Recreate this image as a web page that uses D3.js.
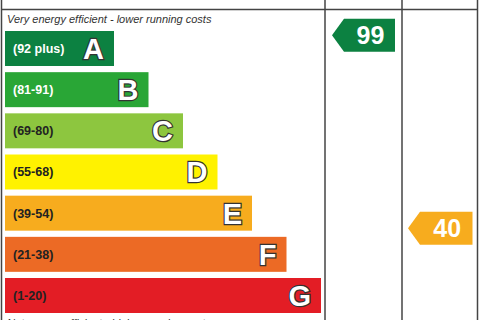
<!DOCTYPE html>
<html>
<head>
<meta charset="utf-8">
<script src="https://cdn.jsdelivr.net/npm/d3@7"></script>
<style>
  body { margin: 0; background: #fff; }
  svg { display: block; font-family: "Liberation Sans", Arial, sans-serif; }
</style>
</head>
<body>
<svg id="chart" width="480" height="320"></svg>
<script>
// Energy efficiency bands, top to bottom
const bands = ['A', 'B', 'C', 'D', 'E', 'F', 'G'];
const rangeLabels = ['(92 plus)', '(81-91)', '(69-80)', '(55-68)', '(39-54)', '(21-38)', '(1-20)'];
const bandMin = [92, 81, 69, 55, 39, 21, 1];
const bandMax = [100, 91, 80, 68, 54, 38, 20];
const bandColors = ['#0c8141', '#29a636', '#8dc63f', '#fff200', '#f7ac1e', '#ec6a25', '#e31d25'];
const rangeTextColors = ['#fff', '#fff', '#222', '#222', '#222', '#222', '#222'];

// Ratings shown in the two right-hand columns
const columns = ['Current', 'Potential'];
const ratings = [99, 40];

const svg = d3.select('#chart');
const W = 480, H = 320;

// column edges
const colX = d3.scaleOrdinal().domain(['chart', 'Current', 'Potential', 'end']).range([1.5, 325, 402, 477.5]);
const headerY = 9.5;

// band rows
const y = d3.scaleBand().domain(bands).range([31, 313]).paddingInner(0.15).paddingOuter(0);
// bar length grows from A to G
const barW = d3.scaleLinear().domain([0, bands.length - 1]).range([109, 316]);
const barX = 5;

const g = svg.append('g');

bands.forEach((b, i) => {
  const row = g.append('g').attr('transform', `translate(${barX},${y(b)})`);
  const w = barW(i);
  row.append('rect')
    .attr('width', w)
    .attr('height', y.bandwidth())
    .attr('fill', bandColors[i]);
  row.append('text')
    .attr('x', 8)
    .attr('y', y.bandwidth() / 2 + 4.5)
    .attr('fill', rangeTextColors[i])
    .style('font-size', '12.5px')
    .style('font-weight', 'bold')
    .text(rangeLabels[i]);
  row.append('text')
    .attr('x', w - 10)
    .attr('y', y.bandwidth() / 2 + 10.5)
    .attr('text-anchor', 'end')
    .attr('fill', '#fff')
    .attr('stroke', '#333')
    .attr('stroke-width', 2.4)
    .attr('paint-order', 'stroke')
    .style('font-size', '29px')
    .style('font-weight', 'bold')
    .text(b);
});

// top / bottom captions
g.append('text')
  .attr('x', 7).attr('y', 23)
  .attr('fill', '#333')
  .style('font-size', '11px')
  .style('font-style', 'italic')
  .text('Very energy efficient - lower running costs');

g.append('text')
  .attr('x', 7).attr('y', 327)
  .attr('fill', '#333')
  .style('font-size', '11px')
  .style('font-style', 'italic')
  .text('Not energy efficient - higher running costs');

// column headers (cut off at the top edge)
columns.forEach((c, i) => {
  const x0 = colX(c), x1 = i === 0 ? colX('Potential') : colX('end');
  g.append('text')
    .attr('x', (x0 + x1) / 2)
    .attr('y', -0.5)
    .attr('text-anchor', 'middle')
    .attr('fill', '#222')
    .style('font-size', '13px')
    .style('font-weight', 'bold')
    .text(c);
});

// grid lines
const lineColor = '#444';
['chart', 'Current', 'Potential', 'end'].forEach(k => {
  g.append('line')
    .attr('x1', colX(k)).attr('x2', colX(k))
    .attr('y1', 0).attr('y2', H)
    .attr('stroke', lineColor).attr('stroke-width', 1.5);
});
g.append('line')
  .attr('x1', colX('chart')).attr('x2', colX('end'))
  .attr('y1', headerY).attr('y2', headerY)
  .attr('stroke', lineColor).attr('stroke-width', 1.5);

// rating position within its band
function bandIndex(score) {
  return bandMin.findIndex(m => score >= m);
}
function ratingY(score) {
  const i = bandIndex(score);
  const s = d3.scaleLinear().domain([bandMax[i], bandMin[i]]).range([y(bands[i]), y(bands[i]) + y.bandwidth()]);
  return s(score);
}

// rating arrows
ratings.forEach((r, i) => {
  const c = columns[i];
  const x0 = colX(c) + (i === 0 ? 7 : 6);
  const x1 = (i === 0 ? colX('Potential') : colX('end')) - (i === 0 ? 7 : 5);
  const cy = ratingY(r);
  const hh = 16.5;
  const tip = 12;
  const bi = bandIndex(r);
  const pts = [[x0, cy], [x0 + tip, cy - hh], [x1, cy - hh], [x1, cy + hh], [x0 + tip, cy + hh]];
  g.append('path')
    .attr('d', d3.line()(pts) + 'Z')
    .attr('fill', bandColors[bi]);
  g.append('text')
    .attr('x', (x0 + tip + x1) / 2 + 1)
    .attr('y', cy + 9)
    .attr('text-anchor', 'middle')
    .attr('fill', '#fff')
    .style('font-size', '25px')
    .style('font-weight', 'bold')
    .text(r);
});
</script>
</body>
</html>
